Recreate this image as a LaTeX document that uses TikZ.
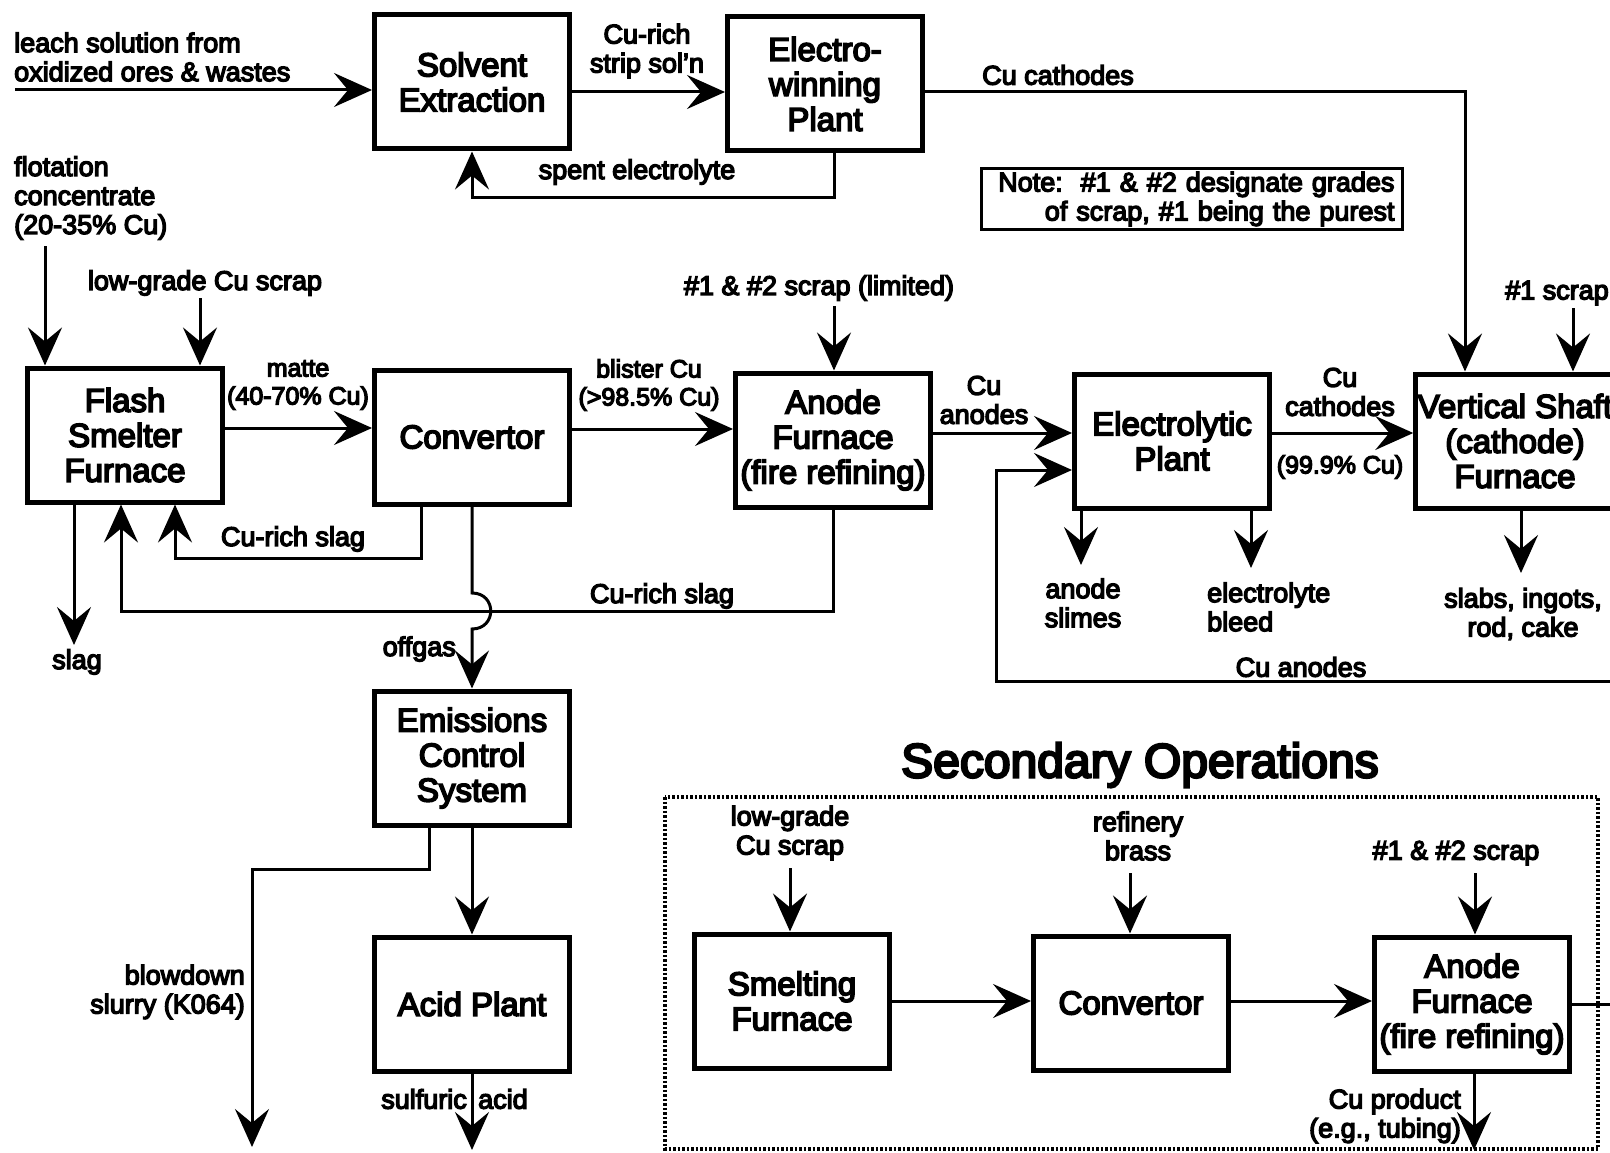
\documentclass[tikz,border=0pt]{standalone}
\usepackage{fontspec}
\setmainfont{Liberation Sans}[FakeBold=5]
\usetikzlibrary{arrows.meta}

\begin{document}
\begin{tikzpicture}[x=1pt,y=-1pt,
  unit/.style={draw,line width=5pt,minimum width=195pt,minimum height=134pt,
    inner sep=2pt,align=center,font=\fontsize{33}{35}\selectfont},
  lbl/.style={inner sep=1pt,align=center,font=\fontsize{27}{29}\selectfont},
  flow/.style={line width=3pt,-{Stealth[length=38pt,width=34pt,inset=14pt]}}]
\clip (0,0) rectangle (1610,1153);

% primary operations
\node[unit] (SE) at (472,82) {Solvent\\Extraction};
\node[unit] (EW) at (825,84) {Electro-\\winning\\Plant};
\node[unit] (FSF) at (125,435) {Flash\\Smelter\\Furnace};
\node[unit] (Conv) at (472,437) {Convertor};
\node[unit] (AF) at (833,440) {Anode\\Furnace\\(fire refining)};
\node[unit] (EP) at (1172,441) {Electrolytic\\Plant};
\node[unit] (VSF) at (1515,441) {Vertical Shaft\\(cathode)\\Furnace};
\node[unit] (ECS) at (472,758) {Emissions\\Control\\System};
\node[unit] (AP) at (472,1004) {Acid Plant};

% secondary operations
\node[unit] (SF) at (792,1001) {Smelting\\Furnace};
\node[unit] (Conv2) at (1131,1003) {Convertor};
\node[unit] (AF2) at (1472,1004) {Anode\\Furnace\\(fire refining)};

\node[draw,line width=3pt,text width=405pt,inner xsep=8pt,inner ysep=3pt,align=right,
  font=\fontsize{27}{29}\selectfont] (note) at (1192,199)
  {Note:\ \ \#1 \& \#2 designate grades\\of scrap, \#1 being the purest};
\node[font=\fontsize{48}{52}\selectfont] (title) at (1140,765) {Secondary Operations};
\draw[line width=3.5pt,dash pattern=on 2.5pt off 2pt] (665,797) rectangle (1598,1149);

% free ends
\coordinate (leachin) at (15,90);
\coordinate (flotin) at (45,246);
\coordinate (lowin) at (200,298);
\coordinate (scrapin) at (834,306);
\coordinate (onein) at (1573,308);
\coordinate (slagout) at (74,645);
\coordinate (slabsout) at (1521,573);
\coordinate (slimesout) at (1081,565);
\coordinate (bleedout) at (1251,568);
\coordinate (blowout) at (252,1147);
\coordinate (acidout) at (472,1150);
\coordinate (lowin2) at (790,868);
\coordinate (brassin) at (1130,873);
\coordinate (scrapin2) at (1475,873);
\coordinate (prodout) at (1474,1150);
\coordinate (offedge) at (1640,681);

\draw[flow] (leachin) -- (leachin -| SE.west);
\draw[flow] (SE.east |- 0,92) -- (EW.west |- 0,92);
\draw[flow] (EW.south -| 834,0) |- (SE.south |- 0,198) -- (SE.south);
\draw[flow] (EW.east |- 0,92) -| (VSF.north -| 1465,0);
\draw[flow] (flotin) -- (flotin |- FSF.north);
\draw[flow] (lowin) -- (lowin |- FSF.north);
\draw[flow] (FSF.east |- 0,428) -- (Conv.west |- 0,428);
\draw[flow] (Conv.east |- 0,429) -- (AF.west |- 0,429);
\draw[flow] (scrapin) -- (scrapin |- AF.north);
\draw[flow] (AF.east |- 0,433) -- (EP.west |- 0,433);
\draw[flow] (EP.east |- 0,433) -- (VSF.west |- 0,433);
\draw[flow] (onein) -- (onein |- VSF.north);
\draw[flow] (VSF.south -| slabsout) -- (slabsout);
\draw[flow] (EP.south -| slimesout) -- (slimesout);
\draw[flow] (EP.south -| bleedout) -- (bleedout);
\draw[flow] (AF2.east) -- (offedge |- AF2.east) -- (offedge) -- (996,681) -- (996,470)
  -- (EP.west |- 0,470);
\draw[flow] (FSF.south -| slagout) -- (slagout);
\draw[flow] (Conv.south -| 421,0) |- (175,558) -- (FSF.south -| 175,0);
\draw[flow] (AF.south) |- (121,611) -- (FSF.south -| 121,0);
% offgas hops over the slag line
\draw[flow] (Conv.south) -- (472,593) .. controls (497,593) and (497,629) .. (472,629)
  -- (ECS.north);
\draw[flow] (ECS.south) -- (AP.north);
\draw[flow] (ECS.south -| 429,0) |- (252,869) -- (blowout);
\draw[flow] (AP.south) -- (acidout);
\draw[flow] (lowin2) -- (lowin2 |- SF.north);
\draw[flow] (brassin) -- (brassin |- Conv2.north);
\draw[flow] (scrapin2) -- (scrapin2 |- AF2.north);
\draw[flow] (SF.east |- 0,1001) -- (Conv2.west |- 0,1001);
\draw[flow] (Conv2.east |- 0,1001) -- (AF2.west |- 0,1001);
\draw[flow] (AF2.south -| prodout) -- (prodout);

% labels
\node[lbl,anchor=west,align=left] (leach) at (13,57) {leach solution from\\oxidized ores \& wastes};
\node[lbl] (strip) at (647,51) {Cu-rich\\strip sol'n};
\node[lbl] (spent) at (637,172) {spent electrolyte};
\node[lbl] (cath1) at (1058,75) {Cu cathodes};
\node[lbl,anchor=west,align=left] (flot) at (13,198) {flotation\\concentrate\\(20-35\% Cu)};
\node[lbl] (low) at (205,283) {low-grade Cu scrap};
\node[lbl,font=\fontsize{25}{28}\selectfont] (matte) at (298,385) {matte\\(40-70\% Cu)};
\node[lbl,font=\fontsize{25}{28}\selectfont] (blister) at (649,385) {blister Cu\\(>98.5\% Cu)};
\node[lbl] (scrap) at (819,288) {\#1 \& \#2 scrap (limited)};
\node[lbl] (anodes) at (984,400) {Cu\\anodes};
\node[lbl] (cath2) at (1340,392) {Cu\\cathodes};
\node[lbl,font=\fontsize{25}{28}\selectfont] (pure) at (1340,467) {(99.9\% Cu)};
\node[lbl] (one) at (1557,293) {\#1 scrap};
\node[lbl] (slabs) at (1523,614) {slabs, ingots,\\rod, cake};
\node[lbl] (slimes) at (1083,603) {anode\\slimes};
\node[lbl,anchor=west,align=left] (bleed) at (1206,607) {electrolyte\\bleed};
\node[lbl] (anodes2) at (1301,667) {Cu anodes};
\node[lbl] (slag) at (77,662) {slag};
\node[lbl] (slag1) at (293,539) {Cu-rich slag};
\node[lbl] (slag2) at (662,596) {Cu-rich slag};
\node[lbl,anchor=east] (offgas) at (457,649) {offgas};
\node[lbl,anchor=east,align=right] (blow) at (246,992) {blowdown\\slurry (K064)};
\node[lbl,anchor=east] (sulf) at (468,1099) {sulfuric};
\node[lbl,anchor=west] (acid) at (477,1099) {acid};
\node[lbl] (low2) at (790,833) {low-grade\\Cu scrap};
\node[lbl] (brass) at (1138,836) {refinery\\brass};
\node[lbl] (scrap2) at (1456,853) {\#1 \& \#2 scrap};
\node[lbl,anchor=east,align=right] (prod) at (1462,1116) {Cu product\\(e.g., tubing)};
\end{tikzpicture}
\end{document}
